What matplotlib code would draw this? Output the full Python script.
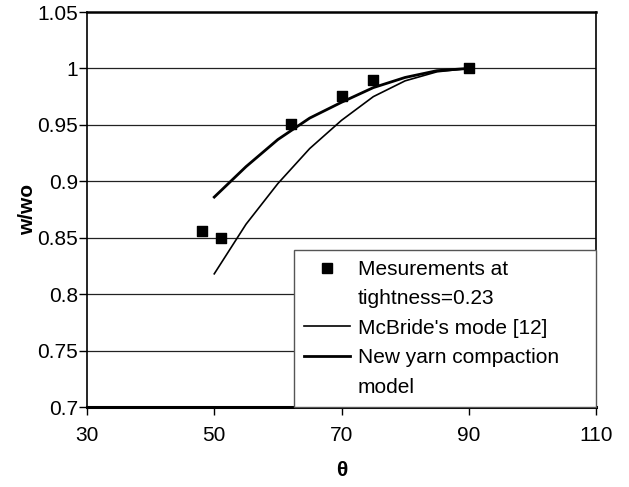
import matplotlib
matplotlib.use("Agg")
import matplotlib.pyplot as plt
from matplotlib.lines import Line2D

plt.rcParams['font.family'] = ['Liberation Sans', 'DejaVu Sans']

meas_theta = [48, 51, 62, 70, 75, 90]
meas_ratio = [0.856, 0.850, 0.951, 0.976, 0.990, 1.000]

model_theta = [50, 55, 60, 65, 70, 75, 80, 85, 90]
mcbride_ratio = [0.818, 0.862, 0.898, 0.929, 0.954, 0.975, 0.989, 0.997, 1.000]
new_ratio = [0.886, 0.913, 0.937, 0.956, 0.970, 0.983, 0.992, 0.998, 1.000]

xticks = [30, 50, 70, 90, 110]
yticks = [0.7, 0.75, 0.8, 0.85, 0.9, 0.95, 1.0, 1.05]
yticklabels = ['0.7', '0.75', '0.8', '0.85', '0.9', '0.95', '1', '1.05']

FS = 15

fig = plt.figure(figsize=(6.29, 4.87), dpi=100)
ax = fig.add_axes([87/629, 1-407/487, (596-87)/629, (407-12)/487])

for y in yticks[1:-1]:
    ax.axhline(y, color='#222222', lw=0.9, zorder=1)

ax.plot(model_theta, mcbride_ratio, color='black', lw=1.2, zorder=3)
ax.plot(model_theta, new_ratio, color='black', lw=2.0, zorder=3)
ax.scatter(meas_theta, meas_ratio, marker='s', s=55, color='black', zorder=4)

ax.set_xlim(30, 110)
ax.set_ylim(0.7, 1.05)
ax.set_xticks(xticks)
ax.set_yticks(yticks)
ax.set_yticklabels(yticklabels)
ax.tick_params(axis='both', direction='out', length=6, width=1, labelsize=FS)
ax.tick_params(axis='y', pad=0.5)
ax.tick_params(axis='x', pad=8)

for s in ['left', 'top', 'right']:
    ax.spines[s].set_linewidth(1.2)
    ax.spines[s].set_color('black')
ax.spines['bottom'].set_linewidth(2.2)
ax.spines['top'].set_linewidth(1.8)

ax.set_ylabel('w/wo', fontsize=FS, fontweight='bold', labelpad=0)
ax.set_xlabel('θ', fontsize=FS, fontweight='bold', labelpad=11)

blank = Line2D([], [], ls='none')
handles = [
    Line2D([], [], marker='s', ls='none', color='black', markersize=7),
    blank,
    Line2D([], [], color='black', lw=1.2),
    Line2D([], [], color='black', lw=2.0),
    blank,
]
labels = ['Mesurements at', 'tightness=0.23', "McBride's mode [12]",
          'New yarn compaction', 'model']
leg = ax.legend(handles, labels, loc='lower left',
                bbox_to_anchor=((294-87)/509, 0.0, (596-294)/509, (407-253)/395),
                mode='expand',
                fontsize=FS, frameon=True, fancybox=False, framealpha=1,
                edgecolor='#555555', handlelength=2.2, handletextpad=0.35,
                borderpad=0.5, labelspacing=0.5, borderaxespad=0)
leg.get_frame().set_linewidth(1.0)
leg.set_zorder(5)

fig.savefig('out.png', dpi=100)
